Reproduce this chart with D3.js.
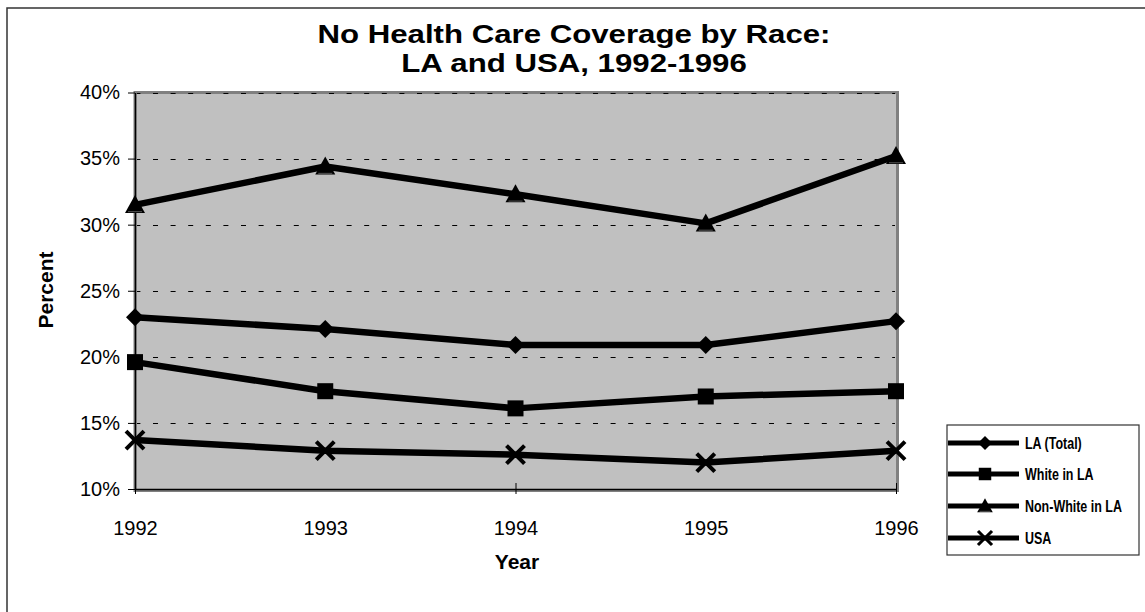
<!DOCTYPE html>
<html>
<head>
<meta charset="utf-8">
<script src="https://cdn.jsdelivr.net/npm/d3@7/dist/d3.min.js"></script>
<style>
  html, body { margin: 0; padding: 0; background: #fff; }
  svg { display: block; font-family: "Liberation Sans", Arial, sans-serif; }
</style>
</head>
<body>
<svg id="chart" width="1145" height="612"></svg>
<script>
// Uninsured share of population, by group and year
const years = ["1992", "1993", "1994", "1995", "1996"];
const laTotal = [23.0, 22.1, 20.9, 20.9, 22.7];
const whiteLA = [19.6, 17.4, 16.1, 17.0, 17.4];
const nonWhiteLA = [31.5, 34.4, 32.3, 30.1, 35.2];
const usa = [13.7, 12.9, 12.6, 12.0, 12.9];
const seriesNames = ["LA (Total)", "White in LA", "Non-White in LA", "USA"];
const seriesMarkers = ["diamond", "square", "triangle", "cross"];
const yTicks = [10, 15, 20, 25, 30, 35, 40];
const titleLines = ["No Health Care Coverage by Race:", "LA and USA, 1992-1996"];

const series = [laTotal, whiteLA, nonWhiteLA, usa].map((vals, i) => ({
  name: seriesNames[i],
  marker: seriesMarkers[i],
  values: vals
}));

const svg = d3.select("#chart");
const plot = { left: 135, right: 896, top: 92.5, bottom: 489 };

const x = d3.scalePoint().domain(years).range([plot.left, plot.right]);
const y = d3.scaleLinear().domain([10, 40]).range([plot.bottom, plot.top]);

// Outer chart frame (runs off the right and bottom edges)
svg.append("rect")
  .attr("x", 7).attr("y", 8)
  .attr("width", 1160).attr("height", 640)
  .attr("fill", "#fff")
  .attr("stroke", "#333").attr("stroke-width", 1.5);

// Title, widened horizontally
const title = svg.append("g").attr("transform", "translate(574,0) scale(1.2,1)");
titleLines.forEach((t, i) => {
  title.append("text")
    .attr("x", 0).attr("y", 43 + i * 29)
    .attr("text-anchor", "middle")
    .attr("font-weight", "bold")
    .attr("font-size", 26)
    .text(t);
});

// Plot area
svg.append("rect")
  .attr("x", plot.left).attr("y", plot.top)
  .attr("width", plot.right - plot.left + 1.5)
  .attr("height", plot.bottom - plot.top + 1.5)
  .attr("fill", "#c0c0c0")
  .attr("stroke", "#808080").attr("stroke-width", 3);

// Dashed horizontal gridlines
svg.append("g")
  .selectAll("line")
  .data(yTicks.filter(d => d > 10))
  .join("line")
  .attr("x1", plot.left + 2).attr("x2", plot.right - 1)
  .attr("y1", d => Math.round(y(d)) + 0.5)
  .attr("y2", d => Math.round(y(d)) + 0.5)
  .attr("stroke", "#000").attr("stroke-width", 1)
  .attr("stroke-dasharray", "5,12.6")
  .attr("stroke-dashoffset", -16);

// Y axis
const yAxis = svg.append("g")
  .attr("transform", `translate(${plot.left},0)`)
  .call(d3.axisLeft(y).tickValues(yTicks).tickFormat(d => d + "%").tickSizeInner(7).tickSizeOuter(0).tickPadding(8));
yAxis.select(".domain").attr("stroke", "#000").attr("stroke-width", 1.5);
yAxis.selectAll(".tick line").attr("stroke", "#000");
yAxis.selectAll(".tick text")
  .attr("font-size", 20).attr("fill", "#000")
  .attr("font-family", "'Liberation Sans', Arial, sans-serif");

// X axis
const xAxis = svg.append("g")
  .attr("transform", `translate(0,${plot.bottom})`)
  .call(d3.axisBottom(x).tickSize(0).tickPadding(32));
xAxis.select(".domain").attr("stroke", "#000").attr("stroke-width", 1.5);
xAxis.selectAll(".tick text")
  .attr("font-size", 20).attr("fill", "#000")
  .attr("font-family", "'Liberation Sans', Arial, sans-serif");
xAxis.selectAll(".tick")
  .filter((d, i) => i % 2 === 0)
  .append("line")
  .attr("y1", -6).attr("y2", 5)
  .attr("stroke", "#000");

// Axis titles
svg.append("text")
  .attr("transform", "translate(53,290) rotate(-90)")
  .attr("text-anchor", "middle")
  .attr("font-weight", "bold").attr("font-size", 21)
  .text("Percent");
svg.append("text")
  .attr("x", 517).attr("y", 569)
  .attr("text-anchor", "middle")
  .attr("font-weight", "bold").attr("font-size", 21)
  .text("Year");

// Marker shapes
function drawMarker(g, type, scale) {
  const s = scale || 1;
  if (type === "diamond") {
    const r = 9 * s;
    g.append("path").attr("d", `M0,${-r}L${r},0L0,${r}L${-r},0Z`).attr("fill", "#000");
  } else if (type === "square") {
    const h = 8 * s;
    g.append("rect").attr("x", -h).attr("y", -h).attr("width", 2 * h).attr("height", 2 * h).attr("fill", "#000");
  } else if (type === "triangle") {
    const w = 10 * s, h = 18 * s;
    g.append("path").attr("d", `M0,${-h * 0.55}L${w},${h * 0.45}L${-w},${h * 0.45}Z`).attr("fill", "#000");
    g.append("line").attr("x1", -w * 0.7).attr("x2", w * 0.7)
      .attr("y1", h * 0.38).attr("y2", h * 0.38)
      .attr("stroke", "#555").attr("stroke-width", 1);
  } else if (type === "cross") {
    const r = 9 * s;
    g.append("path").attr("d", `M${-r},${-r}L${r},${r}M${r},${-r}L${-r},${r}`)
      .attr("stroke", "#000").attr("stroke-width", 4 * s).attr("fill", "none");
  }
}

// Series lines and markers
const line = d3.line().x((d, i) => x(years[i])).y(d => y(d));
const seriesG = svg.append("g");
series.forEach(s => {
  seriesG.append("path")
    .datum(s.values)
    .attr("d", line)
    .attr("fill", "none")
    .attr("stroke", "#000")
    .attr("stroke-width", 6.5)
    .attr("stroke-linejoin", "round");
});
series.forEach(s => {
  s.values.forEach((v, i) => {
    const g = seriesG.append("g").attr("transform", `translate(${x(years[i])},${y(v)})`);
    drawMarker(g, s.marker, 1);
  });
});

// Legend
const legend = svg.append("g");
legend.append("rect")
  .attr("x", 947).attr("y", 425)
  .attr("width", 192).attr("height", 130)
  .attr("fill", "#fff").attr("stroke", "#333").attr("stroke-width", 1.2);
const legendY = [443, 474, 506, 538];
series.forEach((s, i) => {
  const ly = legendY[i];
  legend.append("line")
    .attr("x1", 948).attr("x2", 1019)
    .attr("y1", ly).attr("y2", ly)
    .attr("stroke", "#000").attr("stroke-width", 5);
  const g = legend.append("g").attr("transform", `translate(985,${ly})`);
  drawMarker(g, s.marker, 0.78);
  // condensed bold label, narrowed horizontally
  legend.append("text")
    .attr("transform", `translate(1025,${ly + 6}) scale(0.78,1)`)
    .attr("font-weight", "bold").attr("font-size", 16)
    .text(s.name);
});
</script>
</body>
</html>
